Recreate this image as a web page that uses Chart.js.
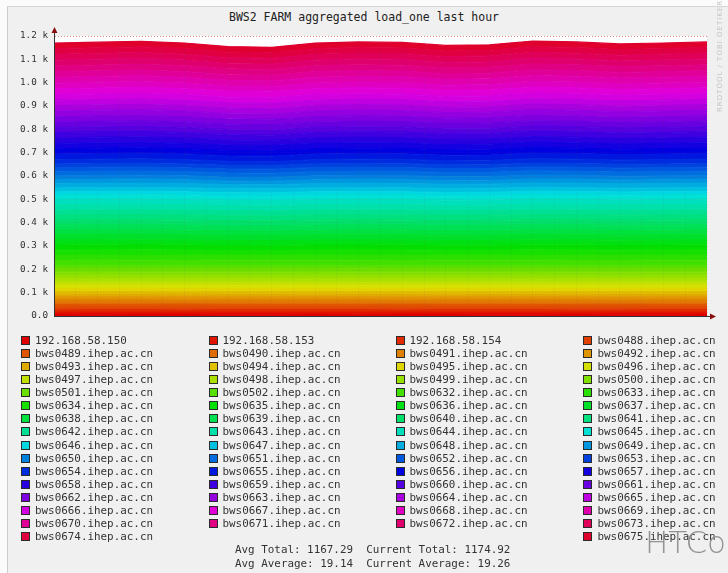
<!DOCTYPE html>
<html>
<head>
<meta charset="utf-8">
<script src="https://cdn.jsdelivr.net/npm/chart.js@4.4.1/dist/chart.umd.min.js"></script>
<style>
html, body { margin:0; padding:0; background:#fbfbfb; width:728px; height:573px; overflow:hidden; }
#panel { position:absolute; left:7px; top:6px; width:760px; height:600px; background:#f0f0f0; border-left:1px solid #cdcdcd; border-top:1px solid #d6d6d6; }
#title { position:absolute; left:0; top:10px; width:728px; text-align:center; font:11.5px "DejaVu Sans Mono", monospace; color:#222; line-height:14px; }
#chart { position:absolute; left:0; top:0; }
.item { position:absolute; font:10.9px "DejaVu Sans Mono", monospace; color:#333; white-space:pre; line-height:13px; }
.sw { position:absolute; width:7px; height:7px; border:1px solid #2a2a2a; }
.stat { position:absolute; left:235px; font:10.9px "DejaVu Sans Mono", monospace; color:#333; white-space:pre; line-height:13px; }
#rrd { position:absolute; left:716px; top:112px; transform-origin:0 0; transform:rotate(-90deg); font:7px "DejaVu Sans", sans-serif; color:#c4c4c4; white-space:pre; letter-spacing:1px; }
#wm { position:absolute; left:645px; top:524px; font:300 31px "DejaVu Sans", sans-serif; color:#939393; white-space:pre; }
</style>
</head>
<body>
<div id="panel"></div>
<div id="title">BWS2 FARM aggregated load_one last hour</div>
<canvas id="chart" width="728" height="336"></canvas>
<div id="legend"></div>
<div class="stat" style="top:543px">Avg Total: 1167.29  Current Total: 1174.92</div>
<div class="stat" style="top:557px">Avg Average: 19.14  Current Average: 19.26</div>
<div id="rrd">RRDTOOL / TOBI OETIKER</div>
<div id="wm">HTCondor</div>
<script>
// minutes after 16:00
var minutes = [2.6, 6.6, 10.6, 14.6, 18.6, 22.6, 26.6, 30.6, 34.6, 38.6, 42.6, 46.6, 50.6, 54.6, 58.6, 62.6];
var xTickLabels = ["16:10", "16:20", "16:30", "16:40", "16:50", "17:00"];

var hostNames = [
  "192.168.58.150", "192.168.58.153", "192.168.58.154",
  "bws0488.ihep.ac.cn", "bws0489.ihep.ac.cn", "bws0490.ihep.ac.cn", "bws0491.ihep.ac.cn",
  "bws0492.ihep.ac.cn", "bws0493.ihep.ac.cn", "bws0494.ihep.ac.cn", "bws0495.ihep.ac.cn",
  "bws0496.ihep.ac.cn", "bws0497.ihep.ac.cn", "bws0498.ihep.ac.cn", "bws0499.ihep.ac.cn",
  "bws0500.ihep.ac.cn", "bws0501.ihep.ac.cn", "bws0502.ihep.ac.cn",
  "bws0632.ihep.ac.cn", "bws0633.ihep.ac.cn", "bws0634.ihep.ac.cn", "bws0635.ihep.ac.cn",
  "bws0636.ihep.ac.cn", "bws0637.ihep.ac.cn", "bws0638.ihep.ac.cn", "bws0639.ihep.ac.cn",
  "bws0640.ihep.ac.cn", "bws0641.ihep.ac.cn", "bws0642.ihep.ac.cn", "bws0643.ihep.ac.cn",
  "bws0644.ihep.ac.cn", "bws0645.ihep.ac.cn", "bws0646.ihep.ac.cn", "bws0647.ihep.ac.cn",
  "bws0648.ihep.ac.cn", "bws0649.ihep.ac.cn", "bws0650.ihep.ac.cn", "bws0651.ihep.ac.cn",
  "bws0652.ihep.ac.cn", "bws0653.ihep.ac.cn", "bws0654.ihep.ac.cn", "bws0655.ihep.ac.cn",
  "bws0656.ihep.ac.cn", "bws0657.ihep.ac.cn", "bws0658.ihep.ac.cn", "bws0659.ihep.ac.cn",
  "bws0660.ihep.ac.cn", "bws0661.ihep.ac.cn", "bws0662.ihep.ac.cn", "bws0663.ihep.ac.cn",
  "bws0664.ihep.ac.cn", "bws0665.ihep.ac.cn", "bws0666.ihep.ac.cn", "bws0667.ihep.ac.cn",
  "bws0668.ihep.ac.cn", "bws0669.ihep.ac.cn", "bws0670.ihep.ac.cn", "bws0671.ihep.ac.cn",
  "bws0672.ihep.ac.cn", "bws0673.ihep.ac.cn", "bws0674.ihep.ac.cn", "bws0675.ihep.ac.cn"
];

// load_one per host (one row per host, same order as hostNames)
var loadOne = [
  [8.3, 7.8, 8.1, 8.4, 7.7, 8.0, 8.2, 7.6, 8.1, 8.3, 7.9, 7.7, 8.2, 8.0, 7.8, 8.1],
  [8.7, 9.2, 8.9, 8.6, 9.3, 9.0, 8.8, 9.4, 8.9, 8.7, 9.1, 9.3, 8.8, 9.0, 9.2, 8.9],
  [9.8, 10.3, 10.0, 9.7, 10.2, 10.4, 9.9, 10.0, 9.7, 10.2, 10.3, 10.1, 9.8, 9.6, 10.1, 10.0],
  [11.2, 10.7, 11.0, 11.3, 10.8, 10.6, 11.1, 11.0, 11.3, 10.8, 10.7, 10.9, 11.2, 11.4, 10.9, 11.0],
  [11.3, 10.8, 11.1, 11.4, 10.7, 11.0, 11.2, 10.6, 11.1, 11.3, 10.9, 10.7, 11.2, 11.0, 10.8, 11.1],
  [9.7, 10.2, 9.9, 9.6, 10.3, 10.0, 9.8, 10.4, 9.9, 9.7, 10.1, 10.3, 9.8, 10.0, 10.2, 9.9],
  [10.8, 11.3, 11.0, 10.7, 11.2, 11.4, 10.9, 11.0, 10.7, 11.2, 11.3, 11.1, 10.8, 10.6, 11.1, 11.0],
  [12.2, 11.7, 12.0, 12.3, 11.8, 11.6, 12.1, 12.0, 12.3, 11.8, 11.7, 11.9, 12.2, 12.4, 11.9, 12.0],
  [11.2, 10.9, 11.1, 11.4, 10.7, 11.0, 11.3, 10.6, 11.1, 11.2, 10.9, 10.8, 11.2, 11.0, 10.8, 11.1],
  [11.7, 12.2, 11.9, 11.6, 12.3, 12.0, 11.8, 12.4, 11.9, 11.7, 12.1, 12.3, 11.8, 12.0, 12.2, 11.9],
  [12.8, 13.3, 13.0, 12.7, 13.2, 13.4, 12.9, 13.0, 12.7, 13.2, 13.3, 13.1, 12.8, 12.6, 13.1, 13.0],
  [14.2, 13.7, 14.0, 14.3, 13.8, 13.6, 14.1, 14.0, 14.3, 13.8, 13.7, 13.9, 14.2, 14.4, 13.9, 14.0],
  [13.3, 12.8, 13.1, 13.4, 12.7, 13.0, 13.2, 12.6, 13.1, 13.3, 12.9, 12.7, 13.2, 13.0, 12.8, 13.1],
  [13.7, 14.2, 13.9, 13.6, 14.3, 14.0, 13.8, 14.4, 13.9, 13.7, 14.1, 14.3, 13.8, 14.0, 14.2, 13.9],
  [14.8, 15.3, 15.0, 14.7, 15.2, 15.4, 14.9, 15.0, 14.7, 15.2, 15.3, 15.1, 14.8, 14.6, 15.1, 15.0],
  [14.1, 13.8, 14.0, 14.3, 13.8, 13.6, 14.2, 14.0, 14.3, 13.9, 13.7, 13.9, 14.2, 14.3, 13.9, 14.0],
  [15.3, 14.8, 15.1, 15.4, 14.7, 15.0, 15.2, 14.6, 15.1, 15.3, 14.9, 14.7, 15.2, 15.0, 14.8, 15.1],
  [13.6, 14.2, 13.9, 13.7, 14.3, 14.0, 13.8, 14.4, 13.9, 13.7, 14.1, 14.2, 13.8, 14.0, 14.2, 13.9],
  [21.8, 22.3, 22.0, 21.7, 22.2, 22.4, 21.9, 22.0, 21.7, 22.2, 22.3, 22.1, 21.8, 21.6, 22.1, 22.0],
  [21.2, 20.7, 21.0, 21.3, 20.8, 20.6, 21.1, 21.0, 21.3, 20.8, 20.7, 20.9, 21.2, 21.4, 20.9, 21.0],
  [22.5, 22.9, 23.4, 22.5, 20.6, 20.2, 22.4, 23.1, 22.8, 21.2, 21.5, 23.5, 23.1, 22.0, 22.5, 23.1],
  [22.3, 21.8, 22.1, 22.4, 21.7, 22.0, 22.2, 21.6, 22.1, 22.3, 21.9, 21.7, 22.2, 22.0, 21.8, 22.1],
  [20.7, 21.2, 20.9, 20.6, 21.3, 21.0, 20.8, 21.4, 20.9, 20.7, 21.1, 21.3, 20.8, 21.0, 21.2, 20.9],
  [21.8, 22.3, 22.0, 21.7, 22.2, 22.4, 21.9, 22.0, 21.7, 22.2, 22.3, 22.1, 21.8, 21.6, 22.1, 22.0],
  [20.2, 19.7, 20.0, 20.3, 19.8, 19.6, 20.1, 20.0, 20.3, 19.8, 19.7, 19.9, 20.2, 20.4, 19.9, 20.0],
  [22.2, 21.9, 22.1, 22.4, 21.7, 22.0, 22.3, 21.6, 22.1, 22.2, 21.9, 21.8, 22.2, 22.0, 21.8, 22.1],
  [20.7, 21.2, 20.9, 20.6, 21.3, 21.0, 20.8, 21.4, 20.9, 20.7, 21.1, 21.3, 20.8, 21.0, 21.2, 20.9],
  [22.5, 22.9, 23.4, 22.5, 20.6, 20.2, 22.4, 23.1, 22.8, 21.2, 21.5, 23.5, 23.1, 22.0, 22.5, 23.1],
  [20.8, 21.3, 21.0, 20.7, 21.2, 21.4, 20.9, 21.0, 20.7, 21.2, 21.3, 21.1, 20.8, 20.6, 21.1, 21.0],
  [23.2, 22.7, 23.0, 23.3, 22.8, 22.6, 23.1, 23.0, 23.3, 22.8, 22.7, 22.9, 23.2, 23.4, 22.9, 23.0],
  [22.0, 22.1, 22.0, 21.9, 22.0, 22.1, 22.0, 21.9, 22.0, 22.0, 22.1, 22.0, 21.9, 22.0, 22.0, 22.1],
  [17.3, 16.8, 17.1, 17.4, 16.7, 17.0, 17.2, 16.6, 17.1, 17.3, 16.9, 16.7, 17.2, 17.0, 16.8, 17.1],
  [15.7, 16.2, 15.9, 15.6, 16.3, 16.0, 15.8, 16.4, 15.9, 15.7, 16.1, 16.3, 15.8, 16.0, 16.2, 15.9],
  [16.8, 17.3, 17.0, 16.7, 17.2, 17.4, 16.9, 17.0, 16.7, 17.2, 17.3, 17.1, 16.8, 16.6, 17.1, 17.0],
  [18.2, 17.7, 18.0, 18.3, 17.8, 17.6, 18.1, 18.0, 18.3, 17.8, 17.7, 17.9, 18.2, 18.4, 17.9, 18.0],
  [16.5, 16.9, 17.4, 16.5, 14.6, 14.2, 16.4, 17.1, 16.8, 15.2, 15.5, 17.5, 17.1, 16.0, 16.5, 17.1],
  [17.2, 16.9, 17.1, 17.4, 16.7, 17.0, 17.3, 16.6, 17.1, 17.2, 16.9, 16.8, 17.2, 17.0, 16.8, 17.1],
  [17.7, 18.2, 17.9, 17.6, 18.3, 18.0, 17.8, 18.4, 17.9, 17.7, 18.1, 18.3, 17.8, 18.0, 18.2, 17.9],
  [16.8, 17.3, 17.0, 16.7, 17.2, 17.4, 16.9, 17.0, 16.7, 17.2, 17.3, 17.1, 16.8, 16.6, 17.1, 17.0],
  [16.2, 15.7, 16.0, 16.3, 15.8, 15.6, 16.1, 16.0, 16.3, 15.8, 15.7, 15.9, 16.2, 16.4, 15.9, 16.0],
  [18.5, 18.9, 19.4, 18.5, 16.6, 16.2, 18.4, 19.1, 18.8, 17.2, 17.5, 19.5, 19.1, 18.0, 18.5, 19.1],
  [24.3, 23.8, 24.1, 24.4, 23.7, 24.0, 24.2, 23.6, 24.1, 24.3, 23.9, 23.7, 24.2, 24.0, 23.8, 24.1],
  [22.7, 23.2, 22.9, 22.6, 23.3, 23.0, 22.8, 23.4, 22.9, 22.7, 23.1, 23.3, 22.8, 23.0, 23.2, 22.9],
  [22.8, 23.3, 23.0, 22.7, 23.2, 23.4, 22.9, 23.0, 22.7, 23.2, 23.3, 23.1, 22.8, 22.6, 23.1, 23.0],
  [23.5, 23.9, 24.4, 23.5, 21.6, 21.2, 23.4, 24.1, 23.8, 22.2, 22.5, 24.5, 24.1, 23.0, 23.5, 24.1],
  [23.2, 22.7, 23.0, 23.3, 22.8, 22.6, 23.1, 23.0, 23.3, 22.8, 22.7, 22.9, 23.2, 23.4, 22.9, 23.0],
  [22.3, 21.8, 22.1, 22.4, 21.7, 22.0, 22.2, 21.6, 22.1, 22.3, 21.9, 21.7, 22.2, 22.0, 21.8, 22.1],
  [22.7, 23.2, 22.9, 22.6, 23.3, 23.0, 22.8, 23.4, 22.9, 22.7, 23.1, 23.3, 22.8, 23.0, 23.2, 22.9],
  [22.8, 23.3, 23.0, 22.7, 23.2, 23.4, 22.9, 23.0, 22.7, 23.2, 23.3, 23.1, 22.8, 22.6, 23.1, 23.0],
  [24.5, 24.9, 25.4, 24.5, 22.6, 22.2, 24.4, 25.1, 24.8, 23.2, 23.5, 25.5, 25.1, 24.0, 24.5, 25.1],
  [23.2, 22.7, 23.0, 23.3, 22.8, 22.6, 23.1, 23.0, 23.3, 22.8, 22.7, 22.9, 23.2, 23.4, 22.9, 23.0],
  [23.3, 22.8, 23.1, 23.4, 22.7, 23.0, 23.2, 22.6, 23.1, 23.3, 22.9, 22.7, 23.2, 23.0, 22.8, 23.1],
  [23.7, 24.2, 23.9, 23.6, 24.3, 24.0, 23.8, 24.4, 23.9, 23.7, 24.1, 24.3, 23.8, 24.0, 24.2, 23.9],
  [24.8, 25.3, 25.0, 24.7, 25.2, 25.4, 24.9, 25.0, 24.7, 25.2, 25.3, 25.1, 24.8, 24.6, 25.1, 25.0],
  [24.5, 24.9, 25.4, 24.5, 22.6, 22.2, 24.4, 25.1, 24.8, 23.2, 23.5, 25.5, 25.1, 24.0, 24.5, 25.1],
  [25.2, 24.7, 25.0, 25.3, 24.8, 24.6, 25.1, 25.0, 25.3, 24.8, 24.7, 24.9, 25.2, 25.4, 24.9, 25.0],
  [24.3, 23.8, 24.1, 24.4, 23.7, 24.0, 24.2, 23.6, 24.1, 24.3, 23.9, 23.7, 24.2, 24.0, 23.8, 24.1],
  [24.7, 25.2, 24.9, 24.6, 25.3, 25.0, 24.8, 25.4, 24.9, 24.7, 25.1, 25.3, 24.8, 25.0, 25.2, 24.9],
  [24.5, 24.9, 25.4, 24.5, 22.6, 22.2, 24.4, 25.1, 24.8, 23.2, 23.5, 25.5, 25.1, 24.0, 24.5, 25.1],
  [24.8, 25.3, 25.0, 24.7, 25.2, 25.4, 24.9, 25.0, 24.7, 25.2, 25.3, 25.1, 24.8, 24.6, 25.1, 25.0],
  [24.2, 23.7, 24.0, 24.3, 23.8, 23.6, 24.1, 24.0, 24.3, 23.8, 23.7, 23.9, 24.2, 24.4, 23.9, 24.0],
  [24.0, 23.9, 24.0, 24.1, 24.0, 23.9, 24.0, 24.1, 24.0, 24.0, 23.9, 24.0, 24.1, 24.0, 24.0, 23.9]
];

// rrd style rainbow: red -> orange -> ... -> crimson
function hostColor(i) {
  var h = i * 348 / (hostNames.length - 1);
  return "hsl(" + h.toFixed(1) + ", 100%, 44%)";
}

var datasets = hostNames.map(function(name, i) {
  return {
    label: name,
    data: minutes.map(function(m, t) { return { x: m, y: loadOne[i][t] }; }),
    backgroundColor: hostColor(i),
    borderColor: hostColor(i),
    borderWidth: 1.2,
    pointRadius: 0,
    tension: 0,
    fill: i === 0 ? "origin" : "-1"
  };
});

var monoTick = { family: "DejaVu Sans Mono", size: 9.3 };

// white canvas behind the plot + little axis arrows like rrdtool
var rrdFrame = {
  id: "rrdFrame",
  beforeDraw: function(chart) {
    var a = chart.chartArea, c = chart.ctx;
    c.save();
    c.fillStyle = "#ffffff";
    c.fillRect(a.left, a.top, a.right - a.left, a.bottom - a.top);
    c.restore();
  },
  afterDraw: function(chart) {
    var a = chart.chartArea, c = chart.ctx;
    c.save();
    c.strokeStyle = "#333";
    c.lineWidth = 1;
    c.beginPath();
    c.moveTo(a.left + 0.5, a.top); c.lineTo(a.left + 0.5, a.top - 6);
    c.moveTo(a.right, a.bottom + 0.5); c.lineTo(a.right + 5, a.bottom + 0.5);
    c.stroke();
    c.fillStyle = "#8a1010";
    c.beginPath();
    c.moveTo(a.left + 0.5, a.top - 9); c.lineTo(a.left - 2.5, a.top - 3); c.lineTo(a.left + 3.5, a.top - 3);
    c.closePath(); c.fill();
    c.beginPath();
    c.moveTo(a.right + 9, a.bottom + 0.5); c.lineTo(a.right + 3, a.bottom - 2.5); c.lineTo(a.right + 3, a.bottom + 3.5);
    c.closePath(); c.fill();
    c.restore();
  }
};

var chart = new Chart(document.getElementById("chart"), {
  type: "line",
  data: { datasets: datasets },
  plugins: [rrdFrame],
  options: {
    responsive: false,
    animation: false,
    devicePixelRatio: 1,
    layout: { padding: { top: 36, right: 21, left: 0, bottom: 0 } },
    plugins: { legend: { display: false }, tooltip: { enabled: false }, title: { display: false } },
    scales: {
      x: {
        type: "linear",
        min: 2.6,
        max: 62.6,
        afterFit: function(s) { s.height = 20; },
        border: { display: true, color: "#333", width: 1, z: 2, dash: [1, 2] },
        grid: {
          z: 1,
          drawTicks: false,
          color: function(ctx) {
            return ctx.tick && ctx.tick.value % 10 === 0 ? "rgba(190,60,60,0.22)" : "rgba(80,80,80,0.12)";
          }
        },
        ticks: {
          stepSize: 2,
          autoSkip: false,
          maxRotation: 0,
          includeBounds: false,
          padding: 3,
          color: "#333",
          font: monoTick,
          callback: function(v) { return v % 10 === 0 ? xTickLabels[v / 10 - 1] : ""; }
        }
      },
      y: {
        stacked: true,
        min: 0,
        max: 1200,
        afterFit: function(s) { s.width = 54; },
        border: { display: true, color: "#333", width: 1, z: 2, dash: [1, 2] },
        grid: {
          z: 1,
          drawTicks: false,
          color: function(ctx) {
            return ctx.tick && ctx.tick.value === 1200 ? "rgba(220,60,60,0.6)" : "rgba(190,60,60,0.14)";
          }
        },
        ticks: {
          stepSize: 100,
          padding: 6,
          color: "#333",
          font: monoTick,
          callback: function(v) { return v === 0 ? "0.0" : (v / 1000).toFixed(1) + " k"; }
        }
      }
    }
  }
});

// legend in rrdtool layout: 4 columns, last line justified left/right
var sqX = [21, 209, 396, 583];
var txX = [35, 222.5, 409.5, 597.5];
var legend = document.getElementById("legend");
hostNames.forEach(function(name, k) {
  var row = Math.floor(k / 4), col = k % 4;
  if (k === 61) { row = 15; col = 3; }
  var cy = 340.7 + row * 13.04;
  var sw = document.createElement("div");
  sw.className = "sw";
  sw.style.left = sqX[col] + "px";
  sw.style.top = (cy - 4.5) + "px";
  sw.style.background = hostColor(k);
  legend.appendChild(sw);
  var tx = document.createElement("div");
  tx.className = "item";
  tx.style.left = txX[col] + "px";
  tx.style.top = (cy - 6.5) + "px";
  tx.textContent = name;
  legend.appendChild(tx);
});
</script>
</body>
</html>
